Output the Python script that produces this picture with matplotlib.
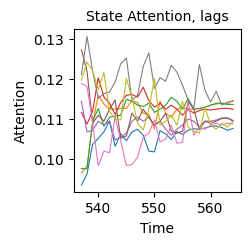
import matplotlib
matplotlib.use('Agg')
import matplotlib.pyplot as plt
import numpy as np

time = np.arange(537, 565)

# one series per lag
blue = [0.0935, 0.0963, 0.1037, 0.1052, 0.1068, 0.1096, 0.1032, 0.1064, 0.1046, 0.1068,
        0.1075, 0.1060, 0.1020, 0.1018, 0.1071, 0.1063, 0.1049, 0.1069, 0.1062, 0.1072,
        0.1076, 0.1075, 0.1078, 0.1082, 0.1083, 0.1079, 0.1072, 0.1077]
orange = [0.0965, 0.0982, 0.1090, 0.1160, 0.1138, 0.1125, 0.1125, 0.1127, 0.1127, 0.1146,
          0.1142, 0.1115, 0.1112, 0.1075, 0.1145, 0.1115, 0.1105, 0.1125, 0.1130, 0.1125,
          0.1125, 0.1127, 0.1130, 0.1135, 0.1138, 0.1140, 0.1138, 0.1147]
green = [0.0976, 0.0976, 0.1095, 0.1127, 0.1082, 0.1105, 0.1108, 0.1110, 0.1150, 0.1145,
         0.1135, 0.1132, 0.1140, 0.1117, 0.1125, 0.1135, 0.1155, 0.1145, 0.1125, 0.1152,
         0.1125, 0.1127, 0.1130, 0.1135, 0.1140, 0.1140, 0.1137, 0.1137]
red = [0.1117, 0.1088, 0.1120, 0.1204, 0.1156, 0.1140, 0.1112, 0.1142, 0.1160, 0.1162,
       0.1155, 0.1180, 0.1147, 0.1130, 0.1140, 0.1125, 0.1135, 0.1125, 0.1110, 0.1125,
       0.1115, 0.1122, 0.1125, 0.1123, 0.1125, 0.1127, 0.1127, 0.1125]
purple = [0.1145, 0.1068, 0.1072, 0.1095, 0.1085, 0.1095, 0.1048, 0.1055, 0.1065, 0.1095,
          0.1105, 0.1095, 0.1105, 0.1085, 0.1095, 0.1075, 0.1060, 0.1075, 0.1085, 0.1100,
          0.1095, 0.1080, 0.1095, 0.1095, 0.1098, 0.1103, 0.1103, 0.1097]
brown = [0.1274, 0.1220, 0.1090, 0.1110, 0.1095, 0.1125, 0.1148, 0.1052, 0.1058, 0.1115,
         0.1095, 0.1125, 0.1105, 0.1085, 0.1095, 0.1115, 0.1070, 0.1065, 0.1070, 0.1145,
         0.1125, 0.1075, 0.1095, 0.1090, 0.1095, 0.1102, 0.1103, 0.1095]
pink = [0.1189, 0.1182, 0.1090, 0.0983, 0.1020, 0.1016, 0.1106, 0.1045, 0.0984, 0.0986,
        0.1005, 0.1055, 0.1065, 0.1098, 0.1043, 0.1050, 0.1085, 0.1040, 0.1042, 0.1145,
        0.1060, 0.1080, 0.1075, 0.1085, 0.1090, 0.1085, 0.1090, 0.1088]
gray = [0.1212, 0.1307, 0.1220, 0.1152, 0.1164, 0.1168, 0.1193, 0.1239, 0.1253, 0.1148,
        0.1160, 0.1232, 0.1266, 0.1177, 0.1204, 0.1195, 0.1235, 0.1218, 0.1185, 0.1148,
        0.1127, 0.1237, 0.1172, 0.1143, 0.1170, 0.1135, 0.1143, 0.1145]
olive = [0.1198, 0.1243, 0.1222, 0.1174, 0.1217, 0.1120, 0.1100, 0.1098, 0.1202, 0.1155,
         0.1090, 0.1073, 0.1125, 0.1202, 0.1085, 0.1095, 0.1110, 0.1085, 0.1145, 0.1080,
         0.1070, 0.1065, 0.1130, 0.1085, 0.1075, 0.1090, 0.1080, 0.1095]

series = [blue, orange, green, red, purple, brown, pink, gray, olive]

fig = plt.figure(figsize=(2.52, 2.43), dpi=100)
ax = fig.add_axes([0.293, 0.208, 0.662, 0.672])
for vals in series:
    ax.plot(time, vals, linewidth=0.8)

ax.set_title('State Attention, lags', fontsize=10)
ax.set_xlabel('Time', fontsize=10)
ax.set_ylabel('Attention', fontsize=10)
ax.set_yticks([0.10, 0.11, 0.12, 0.13])
ax.tick_params(labelsize=10)

fig.savefig('out.png', dpi=100)
